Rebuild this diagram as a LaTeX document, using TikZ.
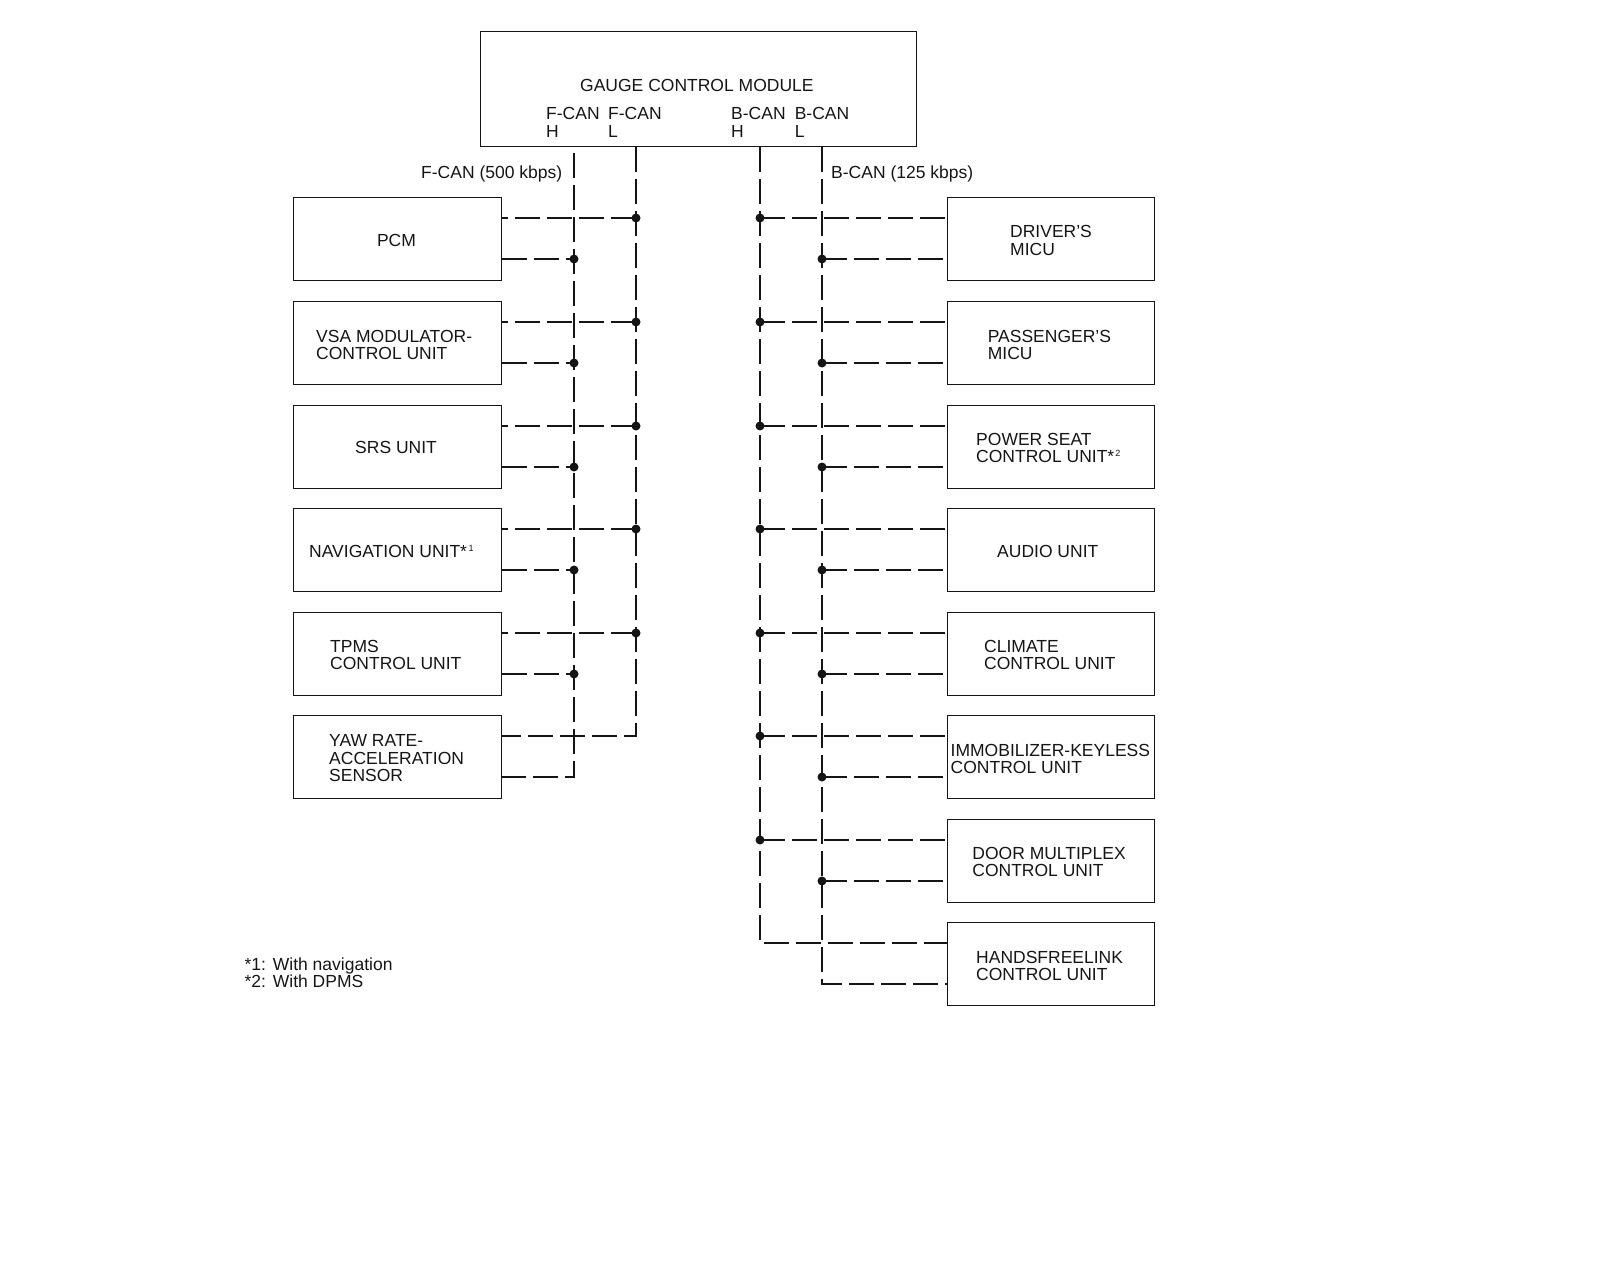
\documentclass[tikz,border=0pt]{standalone}
\usepackage{fontspec}
\setmainfont{Liberation Sans}
\newcommand\txtfont{\fontsize{17.5}{17.3}\selectfont}
\newcommand\twol[2]{\vtop{\hbox{#1}\hbox{#2}}}
\newcommand\threel[3]{\vtop{\hbox{#1}\hbox{#2}\hbox{#3}}}
\newcommand\supn[1]{\kern1pt\raisebox{6.5pt}{\fontsize{9}{9}\selectfont #1}}
\definecolor{ink}{HTML}{151515}
\tikzset{
  x=1pt,y=-1pt,
  boxn/.style={draw=ink,line width=1.2pt,minimum width=208pt,minimum height=83pt,inner sep=0pt},
  wire/.style={draw=ink,line width=2.7pt,dash pattern=on 25pt off 7pt},
  wirefh/.style={wire,dash phase=26.3pt},
  txt/.style={anchor=base west,inner sep=0pt,text=ink,font=\txtfont},
  dotn/.style={circle,fill=ink,inner sep=0pt,minimum size=9pt},
}
\begin{document}
\begin{tikzpicture}
\useasboundingbox (0,0) rectangle (1600,1287);
% main box
\node[boxn,minimum width=436pt,minimum height=115pt] (gcm) at (698.5,89) {};
\coordinate (fht) at (574,147);
\coordinate (flt) at (636,147);
\coordinate (bht) at (760,147);
\coordinate (blt) at (822,147);
% boxes
\foreach \nm [count=\i from 0] in {pcm,vsa,srs,nav,tpms,yaw} {
  \pgfmathsetmacro\cy{round(218.4+103.57*\i)+21}
  \node[boxn] (\nm) at (397.5,\cy) {};
}
\foreach \nm [count=\i from 0] in {drv,pas,pow,aud,cli,imm,doo,han} {
  \pgfmathsetmacro\cy{round(218.4+103.57*\i)+21}
  \node[boxn,minimum width=207pt] (\nm) at (1051,\cy) {};
}
% junctions
\foreach \i in {0,...,7} {
  \pgfmathsetmacro\yu{round(218.4+103.57*\i)}
  \pgfmathsetmacro\yl{round(218.4+103.57*\i)+41}
  \ifnum\i<7
    \node[dotn] (bh\i) at (760,\yu) {};
    \node[dotn] (bl\i) at (822,\yl) {};
  \else
    \coordinate (bh\i) at (760,\yu);
    \coordinate (bl\i) at (822,\yl);
  \fi
  \ifnum\i<5
    \node[dotn] (fl\i) at (636,\yu) {};
    \node[dotn] (fh\i) at (574,\yl) {};
  \fi
  \ifnum\i=5
    \coordinate (fl\i) at (636,\yu);
    \coordinate (fh\i) at (574,\yl);
  \fi
}
% buses, continuing into the last unit on each
\draw[wirefh] (fht) -- (fh5) -- (fh5 -| yaw.east);
\draw[wire] (flt) -- (fl5) -- (fl5 -| yaw.east);
\draw[wire] (bht) -- (bh7) -- (bh7 -| han.west);
\draw[wire] (blt) -- (bl7) -- (bl7 -| han.west);
% branches
\foreach \i/\nm in {0/pcm,1/vsa,2/srs,3/nav,4/tpms} {
  \draw[wire] (fl\i.center) -- (fl\i.center -| \nm.east);
  \draw[wire] (fh\i.center -| \nm.east) -- (fh\i.center);
}
\foreach \i/\nm in {0/drv,1/pas,2/pow,3/aud,4/cli,5/imm,6/doo} {
  \draw[wire] (bh\i.center) -- (bh\i.center -| \nm.west);
  \draw[wire] (bl\i.center) -- (bl\i.center -| \nm.west);
}
% texts
\node[txt] (t0) at (580,92) {GAUGE CONTROL MODULE};
\node[txt] (t1) at (546,120) {\twol{F-CAN}{H}};
\node[txt] (t2) at (608,120) {\twol{F-CAN}{L}};
\node[txt] (t3) at (731,120) {\twol{B-CAN}{H}};
\node[txt] (t4) at (794.6,120) {\twol{B-CAN}{L}};
\node[txt] (t5) at (421,178) {F-CAN (500 kbps)};
\node[txt] (t6) at (831,178) {B-CAN (125 kbps)};
\node[txt] (t7) at (376.8,246.3) {PCM};
\node[txt] (t8) at (316,342.4) {\twol{VSA MODULATOR-}{CONTROL UNIT}};
\node[txt] (t9) at (355,453.3) {SRS UNIT};
\node[txt] (t10) at (309,557.6) {NAVIGATION UNIT*\kern0.5pt\supn{1}};
\node[txt] (t11) at (330,652.3) {\twol{TPMS}{CONTROL UNIT}};
\node[txt] (t12) at (329,746.9) {\threel{YAW RATE-}{ACCELERATION}{SENSOR}};
\node[txt] (t13) at (1010,237.8) {\fontsize{17.5}{18}\selectfont\twol{DRIVER’S}{MICU}};
\node[txt] (t14) at (987.6,342.4) {\twol{PASSENGER’S}{MICU}};
\node[txt] (t15) at (976,445.5) {\twol{POWER SEAT}{CONTROL UNIT*\supn{2}}};
\node[txt] (t16) at (997,557.6) {AUDIO UNIT};
\node[txt] (t17) at (984,652.3) {\twol{CLIMATE}{CONTROL UNIT}};
\node[txt] (t18) at (950.5,756.4) {\twol{IMMOBILIZER-KEYLESS}{CONTROL UNIT}};
\node[txt] (t19) at (972.2,859.3) {\twol{DOOR MULTIPLEX}{CONTROL UNIT}};
\node[txt] (t20) at (976,963.3) {\twol{HANDSFREELINK}{CONTROL UNIT}};
\node[txt] (t21) at (244.4,970) {\twol{\makebox[28.3pt][l]{*1:}With navigation}{\makebox[28.3pt][l]{*2:}With DPMS}};
\end{tikzpicture}
\end{document}
